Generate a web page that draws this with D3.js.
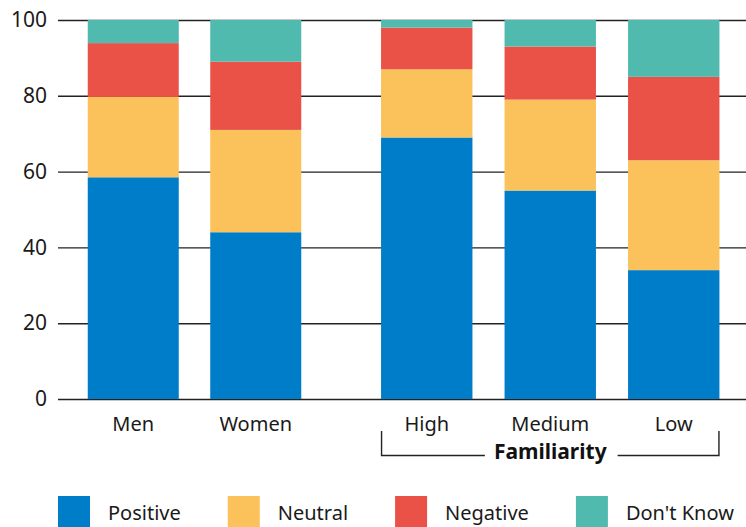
<!DOCTYPE html>
<html>
<head>
<meta charset="utf-8">
<script src="https://cdn.jsdelivr.net/npm/d3@7"></script>
<style>
  html, body { margin: 0; padding: 0; background: #fff; }
  svg { display: block; font-family: "Noto Sans", "Open Sans", sans-serif; }
</style>
</head>
<body>
<svg id="chart" width="746" height="527"></svg>
<script>
// Survey responses by group (percent of respondents)
const genderCategories = ["Men", "Women"];
const familiarityCategories = ["High", "Medium", "Low"];
const seriesNames = ["Positive", "Neutral", "Negative", "Don't Know"];
const positive = [58.5, 44, 69, 55, 34];
const neutral = [21.2, 27, 18, 24, 29];
const negative = [14.2, 18, 11, 14, 22];
const dontKnow = [6.1, 11, 2, 7, 15];
const yTicks = [0, 20, 40, 60, 80, 100];
const groupTitle = "Familiarity";

const colors = ["#007dc8", "#fbc15a", "#ea5247", "#51baae"];

const categories = genderCategories.concat(familiarityCategories);
const rows = categories.map((c, i) => ({
  category: c,
  "Positive": positive[i],
  "Neutral": neutral[i],
  "Negative": negative[i],
  "Don't Know": dontKnow[i]
}));

const svg = d3.select("#chart");

const y = d3.scaleLinear().domain([0, 100]).range([399, 20]);

// Two band scales, one per group, leaving a wider gap between the groups
const xGender = d3.scaleBand().domain(genderCategories)
  .range([72, 317]).paddingInner(0.257).paddingOuter(0.1285);
const xFam = d3.scaleBand().domain(familiarityCategories)
  .range([365, 735.5]).paddingInner(0.26).paddingOuter(0.13);
const xPos = c => genderCategories.includes(c) ? xGender(c) : xFam(c);
const bw = c => genderCategories.includes(c) ? xGender.bandwidth() : xFam.bandwidth();

const color = d3.scaleOrdinal().domain(seriesNames).range(colors);

// Gridlines and y tick labels
const yAxis = d3.axisLeft(y).tickValues(yTicks).tickSize(-(746 - 58)).tickPadding(11);
const gy = svg.append("g").attr("transform", "translate(58,0)").call(yAxis);
gy.select(".domain").remove();
gy.selectAll(".tick line").attr("stroke", "#222").attr("stroke-width", 1.4);
gy.selectAll(".tick text")
  .attr("font-size", 21).attr("fill", "#1a1a1a")
  .attr("font-family", "'Noto Sans', sans-serif");

// Stacked bars
const stack = d3.stack().keys(seriesNames);
const layers = stack(rows);
svg.append("g").selectAll("g")
  .data(layers)
  .join("g")
  .attr("fill", d => color(d.key))
  .selectAll("rect")
  .data(d => d)
  .join("rect")
  .attr("x", d => xPos(d.data.category))
  .attr("width", d => bw(d.data.category))
  .attr("y", d => y(d[1]))
  .attr("height", d => y(d[0]) - y(d[1]));

// Category labels
svg.append("g").selectAll("text")
  .data(categories)
  .join("text")
  .attr("x", c => xPos(c) + bw(c) / 2)
  .attr("y", 431)
  .attr("text-anchor", "middle")
  .attr("font-size", 20)
  .attr("fill", "#1a1a1a")
  .text(c => c);

// Bracket grouping the familiarity levels
const bx0 = xFam(familiarityCategories[0]);
const bx1 = xFam(familiarityCategories[familiarityCategories.length - 1]) + xFam.bandwidth();
const bmid = (bx0 + bx1) / 2;
const title = svg.append("text")
  .attr("x", bmid).attr("y", 459)
  .attr("text-anchor", "middle")
  .attr("font-size", 21).attr("font-weight", "bold")
  .attr("fill", "#111")
  .text(groupTitle);
const tw = title.node().getComputedTextLength();
const bracket = d3.path();
bracket.moveTo(bx0 + 0.5, 431);
bracket.lineTo(bx0 + 0.5, 455.5);
bracket.lineTo(bmid - tw / 2 - 9, 455.5);
bracket.moveTo(bmid + tw / 2 + 11, 455.5);
bracket.lineTo(bx1 - 0.5, 455.5);
bracket.lineTo(bx1 - 0.5, 431);
svg.append("path").attr("d", bracket.toString())
  .attr("fill", "none").attr("stroke", "#222").attr("stroke-width", 1.4);

// Legend: swatch, label, then a fixed gap before the next entry
const legend = svg.append("g").attr("transform", "translate(58,496)");
let lx = 0;
seriesNames.forEach(name => {
  const item = legend.append("g").attr("transform", `translate(${lx},0)`);
  item.append("rect").attr("width", 32).attr("height", 31).attr("fill", color(name));
  const t = item.append("text").attr("x", 50).attr("y", 24)
    .attr("font-size", 20).attr("fill", "#1a1a1a")
    .text(name);
  lx += 50 + t.node().getComputedTextLength() + 47;
});
</script>
</body>
</html>
